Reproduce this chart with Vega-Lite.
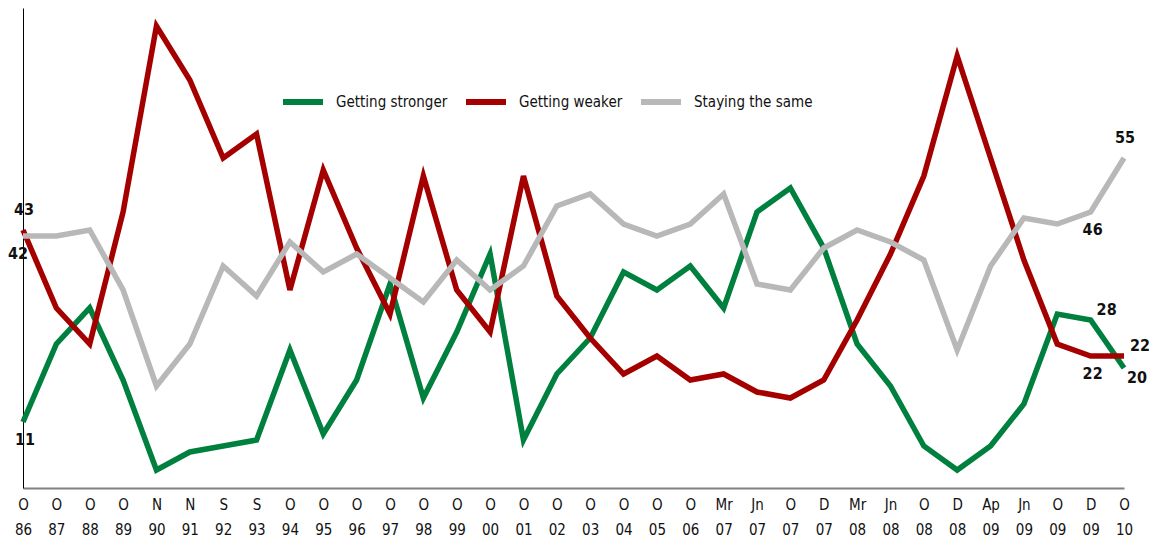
{
  "$schema": "https://vega.github.io/schema/vega-lite/v6.json",
  "autosize": "none",
  "width": 1101,
  "height": 480,
  "padding": {"left": 23, "top": 8, "right": 25, "bottom": 55},
  "background": "white",
  "config": {
    "view": {"stroke": null},
    "font": "'DejaVu Sans Condensed', Roboto, sans-serif"
  },
  "data": {
    "values": [
      {"t": "O 86", "Getting stronger": 11, "Getting weaker": 43, "Staying the same": 42},
      {"t": "O 87", "Getting stronger": 24, "Getting weaker": 30, "Staying the same": 42},
      {"t": "O 88", "Getting stronger": 30, "Getting weaker": 24, "Staying the same": 43},
      {"t": "O 89", "Getting stronger": 18, "Getting weaker": 46, "Staying the same": 33},
      {"t": "N 90", "Getting stronger": 3, "Getting weaker": 77, "Staying the same": 17},
      {"t": "N 91", "Getting stronger": 6, "Getting weaker": 68, "Staying the same": 24},
      {"t": "S 92", "Getting stronger": 7, "Getting weaker": 55, "Staying the same": 37},
      {"t": "S 93", "Getting stronger": 8, "Getting weaker": 59, "Staying the same": 32},
      {"t": "O 94", "Getting stronger": 23, "Getting weaker": 33, "Staying the same": 41},
      {"t": "O 95", "Getting stronger": 9, "Getting weaker": 53, "Staying the same": 36},
      {"t": "O 96", "Getting stronger": 18, "Getting weaker": 40, "Staying the same": 39},
      {"t": "O 97", "Getting stronger": 34, "Getting weaker": 29, "Staying the same": 35},
      {"t": "O 98", "Getting stronger": 15, "Getting weaker": 52, "Staying the same": 31},
      {"t": "O 99", "Getting stronger": 26, "Getting weaker": 33, "Staying the same": 38},
      {"t": "O 00", "Getting stronger": 39, "Getting weaker": 26, "Staying the same": 33},
      {"t": "O 01", "Getting stronger": 8, "Getting weaker": 52, "Staying the same": 37},
      {"t": "O 02", "Getting stronger": 19, "Getting weaker": 32, "Staying the same": 47},
      {"t": "O 03", "Getting stronger": 25, "Getting weaker": 25, "Staying the same": 49},
      {"t": "O 04", "Getting stronger": 36, "Getting weaker": 19, "Staying the same": 44},
      {"t": "O 05", "Getting stronger": 33, "Getting weaker": 22, "Staying the same": 42},
      {"t": "O 06", "Getting stronger": 37, "Getting weaker": 18, "Staying the same": 44},
      {"t": "Mr 07", "Getting stronger": 30, "Getting weaker": 19, "Staying the same": 49},
      {"t": "Jn 07", "Getting stronger": 46, "Getting weaker": 16, "Staying the same": 34},
      {"t": "O 07", "Getting stronger": 50, "Getting weaker": 15, "Staying the same": 33},
      {"t": "D 07", "Getting stronger": 40, "Getting weaker": 18, "Staying the same": 40},
      {"t": "Mr 08", "Getting stronger": 24, "Getting weaker": 28, "Staying the same": 43},
      {"t": "Jn 08", "Getting stronger": 17, "Getting weaker": 39, "Staying the same": 41},
      {"t": "O 08", "Getting stronger": 7, "Getting weaker": 52, "Staying the same": 38},
      {"t": "D 08", "Getting stronger": 3, "Getting weaker": 72, "Staying the same": 23},
      {"t": "Ap 09", "Getting stronger": 7, "Getting weaker": 55, "Staying the same": 37},
      {"t": "Jn 09", "Getting stronger": 14, "Getting weaker": 38, "Staying the same": 45},
      {"t": "O 09", "Getting stronger": 29, "Getting weaker": 24, "Staying the same": 44},
      {"t": "D 09", "Getting stronger": 28, "Getting weaker": 22, "Staying the same": 46},
      {"t": "O 10", "Getting stronger": 20, "Getting weaker": 22, "Staying the same": 55}
    ]
  },
  "transform": [
    {"fold": ["Getting stronger", "Getting weaker", "Staying the same"], "as": ["s", "v"]}
  ],
  "encoding": {
    "x": {
      "field": "t", "type": "ordinal", "sort": null,
      "scale": {"type": "point", "padding": 0},
      "axis": {
        "title": null, "ticks": false, "labelAngle": 0,
        "labelExpr": "split(datum.label, ' ')",
        "labelFont": "'DejaVu Sans Condensed', Roboto, sans-serif", "labelFontSize": 15, "labelColor": "#111",
        "labelLineHeight": 25, "labelPadding": 9, "labelBaseline": "top",
        "domainColor": "#808080", "domainWidth": 2, "grid": false
      }
    },
    "y": {
      "field": "v", "type": "quantitative",
      "scale": {"domain": [0, 80], "nice": false, "zero": true},
      "axis": {"title": null, "labels": false, "ticks": false, "grid": false, "domainColor": "#000", "domainWidth": 1}
    }
  },
  "layer": [
    {
      "mark": {"type": "line", "strokeWidth": 5.5, "strokeJoin": "miter", "strokeCap": "butt"},
      "encoding": {
        "color": {
          "field": "s", "type": "nominal",
          "scale": {"domain": ["Getting stronger", "Getting weaker", "Staying the same"], "range": ["#00803F", "#A50000", "#B8B8B8"]},
          "legend": {
            "title": null, "orient": "none", "direction": "horizontal",
            "legendX": 257, "legendY": 71,
            "symbolType": "stroke", "symbolSize": 1600, "symbolStrokeWidth": 6,
            "labelFont": "'DejaVu Sans Condensed', Roboto, sans-serif", "labelFontSize": 15, "labelColor": "#111",
            "labelOffset": 10, "columnPadding": 6, "symbolOffset": 0
          }
        }
      }
    },
    {
      "transform": [{"filter": "(datum.t == 'O 86' && datum.s == 'Getting weaker') || (datum.t == 'O 10' && datum.s == 'Staying the same')"}],
      "mark": {"type": "text", "dy": -20, "dx": 1, "fontWeight": "bold", "fontSize": 16, "color": "#111"},
      "encoding": {"text": {"field": "v"}}
    },
    {
      "transform": [{"filter": "(datum.t == 'O 86' && datum.s == 'Getting stronger') || (datum.t == 'D 09' && datum.s != 'Getting stronger')"}],
      "mark": {"type": "text", "dy": 18, "dx": 2, "fontWeight": "bold", "fontSize": 16, "color": "#111"},
      "encoding": {"text": {"field": "v"}}
    },
    {
      "transform": [{"filter": "datum.t == 'O 86' && datum.s == 'Staying the same'"}],
      "mark": {"type": "text", "dy": 18, "dx": -5, "fontWeight": "bold", "fontSize": 16, "color": "#111"},
      "encoding": {"text": {"field": "v"}}
    },
    {
      "transform": [{"filter": "(datum.t == 'D 09' && datum.s == 'Getting stronger') || (datum.t == 'O 10' && datum.s == 'Getting weaker')"}],
      "mark": {"type": "text", "dy": -10, "dx": 16, "fontWeight": "bold", "fontSize": 16, "color": "#111"},
      "encoding": {"text": {"field": "v"}}
    },
    {
      "transform": [{"filter": "datum.t == 'O 10' && datum.s == 'Getting stronger'"}],
      "mark": {"type": "text", "dy": 10, "dx": 13, "fontWeight": "bold", "fontSize": 16, "color": "#111"},
      "encoding": {"text": {"field": "v"}}
    }
  ]
}
